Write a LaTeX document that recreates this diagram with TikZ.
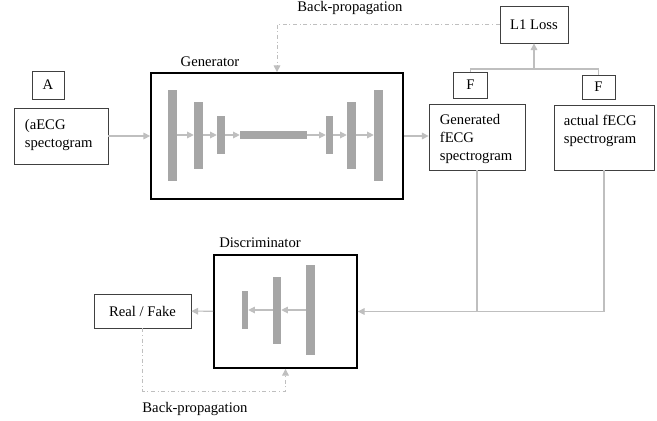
\documentclass[tikz,border=0pt]{standalone}
\usepackage{fontspec}
\setmainfont{Liberation Serif}
\usepackage{xcolor}
\usepackage{tikz}
\usetikzlibrary{positioning,arrows.meta}
\definecolor{GLine}{HTML}{BFBFBF}
\definecolor{GBar}{HTML}{A6A6A6}
\definecolor{GEdge}{HTML}{404040}

\tikzset{
  box/.style={draw=GEdge, line width=0.6pt, inner sep=0pt},
  net/.style={draw=black, line width=1.3pt, inner sep=0pt},
  bar/.style={fill=GBar, inner sep=0pt},
  txt/.style={inner sep=0pt, align=left, anchor=north west},
  line/.style={draw=GLine, line width=0.8pt},
  arr/.style={line, -{Triangle[length=5pt,width=5pt]}, color=GLine},
  bp/.style={draw=GLine, line width=0.6pt, dash dot, -{Triangle[length=5pt,width=5pt]}, color=GLine}
}

\begin{document}
\begin{tikzpicture}[x=0.75pt, y=-0.75pt, font=\fontsize{11}{13.5}\selectfont]
  \useasboundingbox[fill=white] (0,0) rectangle (657,421);

  % input side
  \node[box, minimum width=24pt, minimum height=21pt] (tagA) at (48,85) {A};
  \node[box, minimum width=70.5pt, minimum height=42pt] (aecg) at (61,136) {};
  \node[txt] at ([xshift=8.25pt,yshift=-8.25pt]aecg.north west) {(aECG\\spectogram};

  % generator
  \node[net, minimum width=189pt, minimum height=94.5pt] (gen) at (277,136) {};
  \node at (210,62) {Generator};
  \node[bar, minimum width=6.75pt, minimum height=68.25pt] (g1) at (172.5,135) {};
  \node[bar, minimum width=6.75pt, minimum height=50.25pt] (g2) at (198.5,135) {};
  \node[bar, minimum width=6pt,    minimum height=28.5pt]  (g3) at (221,135) {};
  \node[bar, minimum width=50.25pt,minimum height=6pt]     (gm) at (273.5,135) {};
  \node[bar, minimum width=5.25pt, minimum height=28.5pt]  (g4) at (329.5,135) {};
  \node[bar, minimum width=6.75pt, minimum height=50.25pt] (g5) at (351.5,135) {};
  \node[bar, minimum width=6.75pt, minimum height=68.25pt] (g6) at (378.5,135) {};
  \draw[arr] (g1) -- (g2);
  \draw[arr] (g2) -- (g3);
  \draw[arr] (g3) -- (gm);
  \draw[arr] (gm) -- (g4);
  \draw[arr] (g4) -- (g5);
  \draw[arr] (g5) -- (g6);
  \draw[arr] (aecg) -- (gen);

  % outputs and loss
  \node[box, minimum width=72pt, minimum height=49.5pt] (gend) at (477,137) {};
  \node[txt] at ([xshift=8.25pt,yshift=-7.5pt]gend.north west) {Generated\\fECG\\spectrogram};
  \node[box, minimum width=75pt, minimum height=48.75pt] (actual) at (604,137.5) {};
  \node[txt] at ([xshift=7.5pt,yshift=-7.5pt]actual.north west) {actual fECG\\spectrogram};
  \node[box, minimum width=25.5pt, minimum height=19.5pt] (tagF1) at (470.5,85) {F};
  \node[box, minimum width=24.75pt, minimum height=18pt] (tagF2) at (598.5,87) {F};
  \node[box, minimum width=51pt, minimum height=27.75pt] (loss) at (534,24.5) {L1 Loss};
  \draw[arr] (gen) -- (gend.west |- gen.east);

  \coordinate (join) at (534,69);
  \draw[line] (tagF1.north) |- (join) -| (tagF2.north);
  \draw[arr] (join) -- (loss);

  \node at (350,8) {Back-propagation};
  \draw[bp] (loss.west) -| (gen.north);

  % discriminator
  \node[net, minimum width=107.25pt, minimum height=84.75pt] (disc) at (285.5,311.5) {};
  \node at (260,243) {Discriminator};
  \node[bar, minimum width=4.5pt,  minimum height=28.5pt]  (d1) at (245,310) {};
  \node[bar, minimum width=6pt,    minimum height=50.25pt] (d2) at (277,310) {};
  \node[bar, minimum width=6.75pt, minimum height=67.5pt]  (d3) at (310.5,310) {};
  \draw[arr] (d3) -- (d2);
  \draw[arr] (d2) -- (d1);

  \draw[line] (gend.south) -- (gend.south |- disc.east);
  \draw[arr] (actual.south) |- (disc.east);

  \node[box, minimum width=72.75pt, minimum height=25.5pt] (rf) at (142.5,311) {Real / Fake};
  \draw[arr] (disc) -- (rf);

  \coordinate (bpbot) at (0,391);
  \draw[bp] (rf.south) -- (rf.south |- bpbot) -| (disc.south);
  \node at (195,409) {Back-propagation};
\end{tikzpicture}
\end{document}
